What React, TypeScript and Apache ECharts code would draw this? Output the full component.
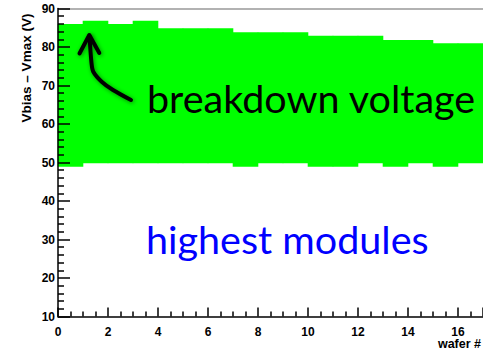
import React, { useEffect, useRef } from "react";
import * as echarts from "echarts";

const wafers = [0, 1, 2, 3, 4, 5, 6, 7, 8, 9, 10, 11, 12, 13, 14, 15, 16];
const breakdownVoltage = [86, 86.8, 86, 86.8, 84.9, 84.9, 84.9, 83.8, 83.8, 83.8, 82.9, 82.9, 82.9, 81.8, 81.8, 81, 81];
const highestModules = [48.9, 49.8, 49.8, 49.8, 49.8, 49.8, 49.8, 48.9, 49.8, 49.8, 48.9, 48.9, 49.8, 48.9, 49.8, 48.9, 49.8];
const yTitle = "Vbias \u2013 Vmax (V)";
const xTitle = "wafer #";
const label1 = "breakdown voltage";
const label2 = "highest modules";

export default function App() {
  const ref = useRef<HTMLDivElement>(null);
  useEffect(() => {
    const chart = echarts.init(ref.current!, null, { renderer: "svg" });
    const data = wafers.map((w, i) => [w, highestModules[i], breakdownVoltage[i]]);
    const tickFont = { fontFamily: "Liberation Sans", fontWeight: "bold" as const, fontSize: 12, color: "#000" };
    chart.setOption({
      animation: false,
      backgroundColor: "#fff",
      grid: { left: 58, top: 8.5, right: 0, bottom: 36.5 },
      xAxis: {
        type: "value",
        min: 0,
        max: 17,
        interval: 2,
        z: 10,
        axisLine: { lineStyle: { color: "#000", width: 1.5 } },
        axisTick: { inside: true, length: 9, lineStyle: { color: "#000", width: 1.5 } },
        minorTick: { show: true, splitNumber: 4, length: 5, lineStyle: { color: "#000", width: 1.5 } },
        splitLine: { show: false },
        axisLabel: { ...tickFont, margin: 9, showMaxLabel: false, formatter: (v: number) => (v % 2 === 0 ? String(v) : "") },
      },
      yAxis: {
        type: "value",
        min: 10,
        max: 90,
        interval: 10,
        z: 10,
        axisLine: { lineStyle: { color: "#000", width: 1.5 } },
        axisTick: { inside: true, length: 12, lineStyle: { color: "#000", width: 1.5 } },
        minorTick: { show: true, splitNumber: 5, length: 6, lineStyle: { color: "#000", width: 1.5 } },
        splitLine: { show: false },
        axisLabel: { ...tickFont, margin: 3 },
      },
      series: [
        {
          type: "custom",
          data,
          encode: { x: 0, y: [1, 2] },
          renderItem: (params: any, api: any) => {
            const x0 = api.value(0);
            const lo = api.value(1);
            const hi = api.value(2);
            const p0 = api.coord([x0, hi]);
            const p1 = api.coord([x0 + 1, lo]);
            return {
              type: "rect",
              shape: { x: p0[0] - 0.3, y: p0[1], width: p1[0] - p0[0] + 0.6, height: p1[1] - p0[1] },
              style: { fill: "#00ff00" },
            };
          },
        },
      ],
      graphic: [
        { type: "line", z: 5, shape: { x1: 58, y1: 9, x2: 483, y2: 9 }, style: { stroke: "#999", lineWidth: 1.5 } },
        {
          type: "text",
          x: 26,
          y: 68,
          rotation: Math.PI / 2,
          style: { text: yTitle, font: "bold 13.5px 'Liberation Sans'", fill: "#000", align: "center", verticalAlign: "middle" },
        },
        {
          type: "text",
          x: 481,
          y: 344,
          style: { text: xTitle, font: "bold 12.5px 'Liberation Sans'", fill: "#000", align: "right", verticalAlign: "middle" },
        },
        {
          type: "text",
          x: 147,
          y: 97,
          z: 20,
          style: { text: label1, font: "39.5px Lato", fill: "#000", align: "left", verticalAlign: "middle" },
        },
        {
          type: "text",
          x: 146,
          y: 238.5,
          z: 20,
          style: { text: label2, font: "39.5px Lato", fill: "#0000ff", align: "left", verticalAlign: "middle" },
        },
        {
          type: "polyline",
          z: 20,
          shape: {
            points: [[131, 100], [113, 90], [101.7, 81.7], [93.3, 71.7], [91.5, 63], [89.5, 36]],
            smooth: 0.3,
          },
          style: { stroke: "#000", lineWidth: 4, fill: null, lineCap: "round", lineJoin: "round", shadowBlur: 4, shadowColor: "rgba(0,0,0,0.45)", shadowOffsetX: 1, shadowOffsetY: 1 },
        },
        {
          type: "polyline",
          z: 20,
          shape: { points: [[79.5, 53.5], [89.3, 35], [99.3, 53]] },
          style: { stroke: "#000", lineWidth: 4, fill: null, lineCap: "round", lineJoin: "round", shadowBlur: 4, shadowColor: "rgba(0,0,0,0.45)", shadowOffsetX: 1, shadowOffsetY: 1 },
        },
      ],
    });
    return () => chart.dispose();
  }, []);
  return <div ref={ref} style={{ width: 483, height: 353, position: "absolute", left: 0, top: 0 }} />;
}
